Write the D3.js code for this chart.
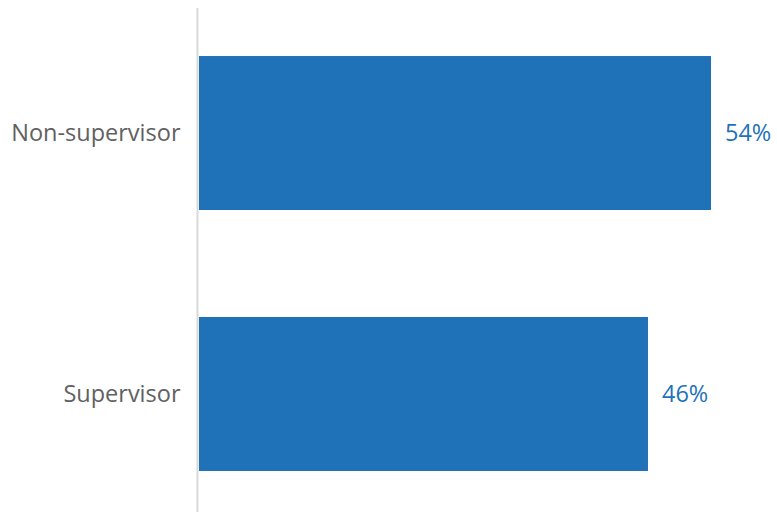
<!DOCTYPE html>
<html>
<head>
<meta charset="utf-8">
<script src="https://cdn.jsdelivr.net/npm/d3@7"></script>
<style>
  html, body { margin: 0; padding: 0; background: #fff; }
  svg { display: block; font-family: 'Open Sans', sans-serif; }
</style>
</head>
<body>
<div id="chart"></div>
<script>
const categories = ['Non-supervisor', 'Supervisor'];
const values = [54, 46];
const valueLabels = ['54%', '46%'];

const width = 777;
const height = 512;
const barColor = '#1f72b8';

const svg = d3.select('#chart')
  .append('svg')
  .attr('width', width)
  .attr('height', height);

// x domain starts below zero so bar lengths line up with the original
const x = d3.scaleLinear().domain([-11, 54]).range([199, 711]);
const y = d3.scaleBand()
  .domain(categories)
  .range([8, 519])
  .paddingInner(0.41)
  .paddingOuter(0.184);

const rows = categories.map((c, i) => ({ cat: c, value: values[i], label: valueLabels[i] }));

svg.selectAll('rect.bar')
  .data(rows)
  .enter().append('rect')
  .attr('class', 'bar')
  .attr('x', x.range()[0])
  .attr('y', d => y(d.cat))
  .attr('width', d => x(d.value) - x.range()[0])
  .attr('height', y.bandwidth())
  .attr('fill', barColor);

// value labels
svg.selectAll('text.value')
  .data(rows)
  .enter().append('text')
  .attr('class', 'value')
  .attr('x', d => x(d.value) + 14)
  .attr('y', d => y(d.cat) + y.bandwidth() / 2)
  .attr('dy', '0.35em')
  .attr('font-size', 23.5)
  .attr('fill', barColor)
  .text(d => d.label);

// category axis
const yAxis = d3.axisLeft(y).tickSize(0).tickPadding(17);
const g = svg.append('g')
  .attr('transform', 'translate(197.5,0)')
  .call(yAxis);
g.select('.domain').remove();
g.selectAll('text')
  .attr('font-family', "'Open Sans', sans-serif")
  .attr('font-size', 23.5)
  .attr('fill', '#616161');
g.append('line')
  .attr('y1', y.range()[0])
  .attr('y2', y.range()[1])
  .attr('stroke', '#d9d9d9')
  .attr('stroke-width', 2);
</script>
</body>
</html>
